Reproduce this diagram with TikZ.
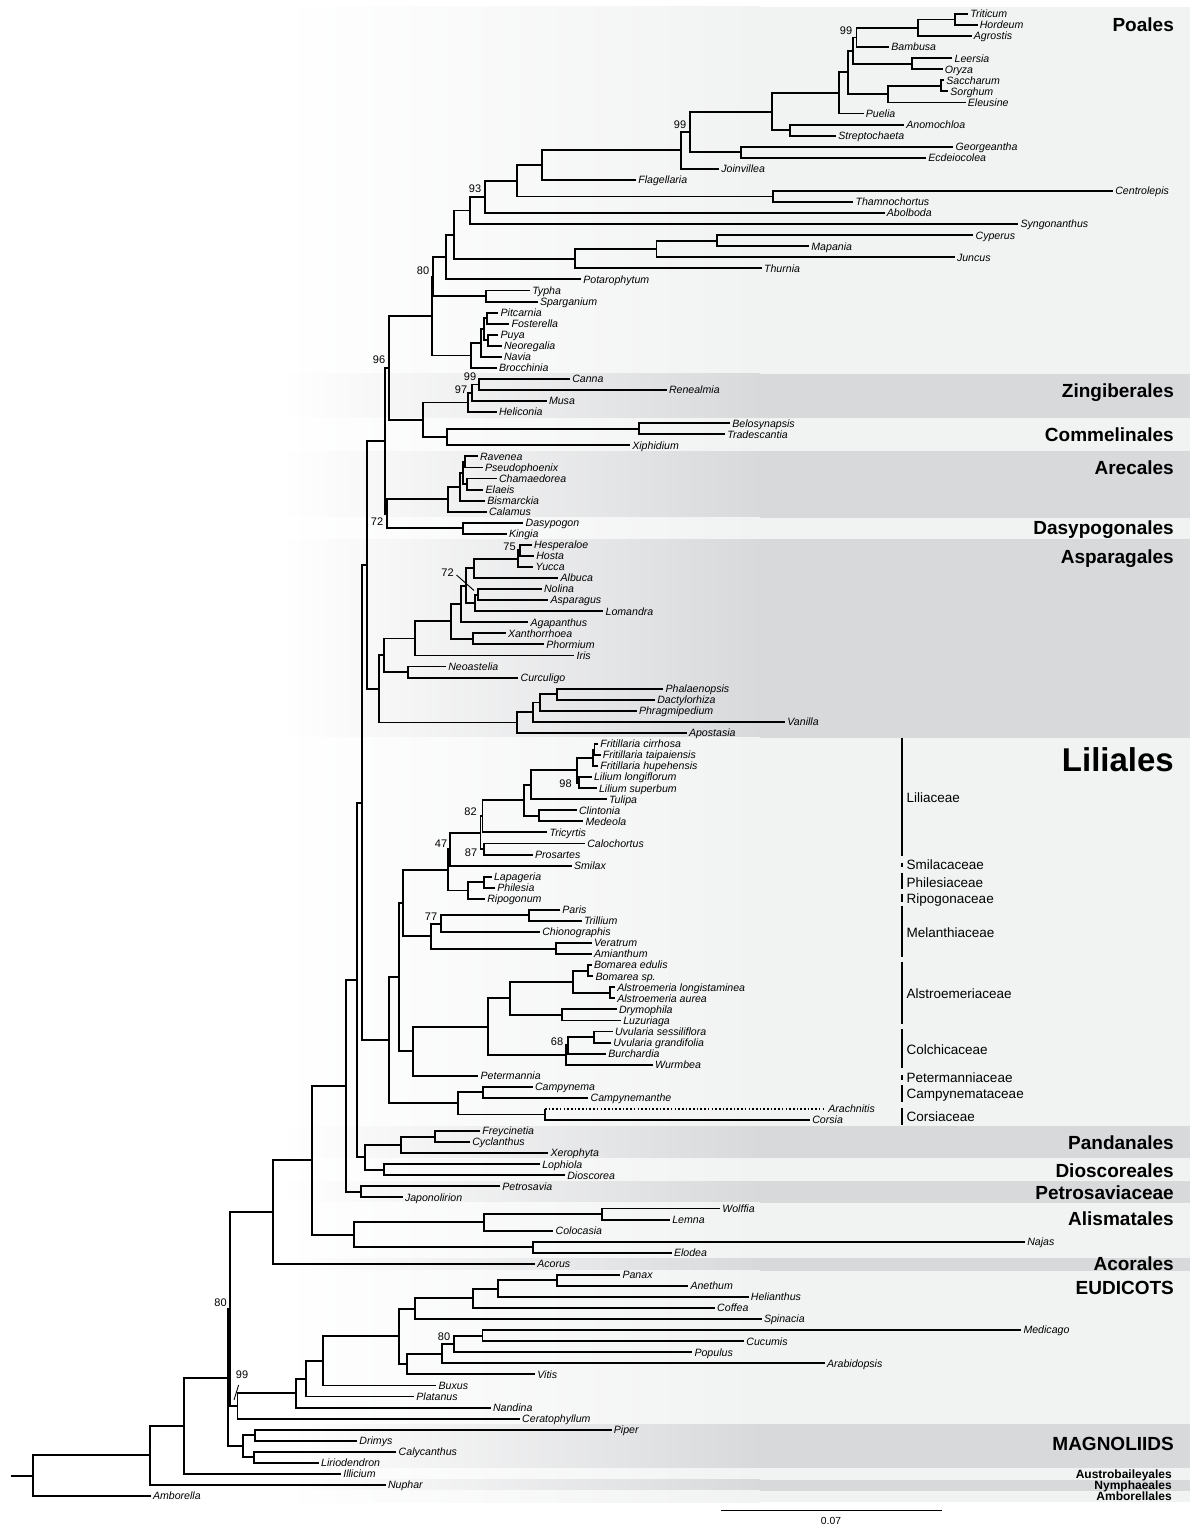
\documentclass[tikz,border=0pt]{standalone}
\usepackage{fontspec}
\setmainfont{Liberation Sans}
\usetikzlibrary{calc}
\definecolor{dkband}{RGB}{216,217,219}
\definecolor{ltband}{RGB}{241,242,242}
\tikzset{
  br/.style={line width=1.9pt},
  lab/.style={anchor=west,inner xsep=2.3pt,inner ysep=0pt,outer sep=0pt,font=\fontsize{10.6}{12}\selectfont\itshape,text height=7.6pt,text depth=0pt},
  boot/.style={inner sep=0pt,font=\fontsize{11}{12}\selectfont,text height=7.9pt,text depth=0pt},
  clab/.style={anchor=east,inner sep=0pt,font=\fontsize{19}{21}\selectfont\bfseries,text height=13.6pt,text depth=0pt},
  slab/.style={anchor=east,inner sep=0pt,font=\fontsize{12}{13}\selectfont\bfseries,text height=8.6pt,text depth=0pt},
  famlab/.style={anchor=west,inner sep=0pt,font=\fontsize{13.5}{15}\selectfont,text height=9.7pt,text depth=0pt},
  fambar/.style={line width=2.4pt},
  lead/.style={line width=0.9pt}
}
\newcommand\mylf[4]{\coordinate (#1) at (#2,{14+11.06*#3}); \node[lab] (#1-l) at (#1) {#4};}
\newcommand\mycl[4]{\coordinate (#1m) at ($(#3)!0.5!(#4)$); \coordinate (#1x) at (#2,0); \coordinate (#1) at (#1x |- #1m); \draw[br] (#3) -| (#1) |- (#4);}
\newcommand\myband[3]{\shade[left color=white,right color=#3] (280,#1) rectangle (760,#2); \fill[#3] (760,#1) rectangle (1190,#2);}
\newcommand\myclab[3]{\node[clab] (#1) at (1174,#2) {#3};}
\newcommand\myfam[5]{\coordinate (#1a) at (901.7,#2); \coordinate (#1b) at (901.7,#3); \draw[fambar] (#1a) -- (#1b); \node[famlab] (#1) at (906.5,#4) {#5};}
\begin{document}
\begin{tikzpicture}[x=1pt,y=-1pt]
\useasboundingbox (0,0) rectangle (1190,1525);
% bands
\myband{7}{373.5}{ltband}
\myband{373.5}{418}{dkband}
\myband{418}{451}{ltband}
\myband{451}{517.5}{dkband}
\myband{517.5}{539}{ltband}
\myband{539}{737.5}{dkband}
\myband{737.5}{1126}{ltband}
\myband{1126}{1158}{dkband}
\myband{1158}{1181}{ltband}
\myband{1181}{1202.5}{dkband}
\myband{1202.5}{1258}{ltband}
\myband{1258}{1270.5}{dkband}
\myband{1270.5}{1424}{ltband}
\myband{1424}{1468}{dkband}
\myband{1468}{1479.5}{ltband}
\myband{1479.5}{1490.5}{dkband}
\myband{1490.5}{1502}{ltband}
% leaves
\mylf{Triticum}{968}{0}{Triticum}
\mylf{Hordeum}{977.5}{1}{Hordeum}
\mylf{Agrostis}{971.6}{2}{Agrostis}
\mylf{Bambusa}{889}{3}{Bambusa}
\mylf{Leersia}{952.3}{4}{Leersia}
\mylf{Oryza}{942.5}{5}{Oryza}
\mylf{Saccharum}{944}{6}{Saccharum}
\mylf{Sorghum}{948}{7}{Sorghum}
\mylf{Eleusine}{965.6}{8}{Eleusine}
\mylf{Puelia}{863.5}{9}{Puelia}
\mylf{Anomochloa}{904}{10}{Anomochloa}
\mylf{Streptochaeta}{836}{11}{Streptochaeta}
\mylf{Georgeantha}{953.3}{12}{Georgeantha}
\mylf{Ecdeiocolea}{926}{13}{Ecdeiocolea}
\mylf{Joinvillea}{719}{14}{Joinvillea}
\mylf{Flagellaria}{636}{15}{Flagellaria}
\mylf{Centrolepis}{1113}{16}{Centrolepis}
\mylf{Thamnochortus}{853.3}{17}{Thamnochortus}
\mylf{Abolboda}{884.6}{18}{Abolboda}
\mylf{Syngonanthus}{1018.2}{19}{Syngonanthus}
\mylf{Cyperus}{973.3}{20}{Cyperus}
\mylf{Mapania}{809.1}{21}{Mapania}
\mylf{Juncus}{954.7}{22}{Juncus}
\mylf{Thurnia}{761.8}{23}{Thurnia}
\mylf{Potarophytum}{581}{24}{Potarophytum}
\mylf{Typha}{530}{25}{Typha}
\mylf{Sparganium}{537.7}{26}{Sparganium}
\mylf{Pitcarnia}{498.3}{27}{Pitcarnia}
\mylf{Fosterella}{509.3}{28}{Fosterella}
\mylf{Puya}{498.3}{29}{Puya}
\mylf{Neoregalia}{501.7}{30}{Neoregalia}
\mylf{Navia}{501.7}{31}{Navia}
\mylf{Brocchinia}{496.7}{32}{Brocchinia}
\mylf{Canna}{570}{33}{Canna}
\mylf{Renealmia}{666.7}{34}{Renealmia}
\mylf{Musa}{546.7}{35}{Musa}
\mylf{Heliconia}{496.7}{36}{Heliconia}
\mylf{Belosynapsis}{730}{37}{Belosynapsis}
\mylf{Tradescantia}{725}{38}{Tradescantia}
\mylf{Xiphidium}{630}{39}{Xiphidium}
\mylf{Ravenea}{477.7}{40}{Ravenea}
\mylf{Pseudophoenix}{482.7}{41}{Pseudophoenix}
\mylf{Chamaedorea}{496.7}{42}{Chamaedorea}
\mylf{Elaeis}{483.3}{43}{Elaeis}
\mylf{Bismarckia}{485}{44}{Bismarckia}
\mylf{Calamus}{486.7}{45}{Calamus}
\mylf{Dasypogon}{523.3}{46}{Dasypogon}
\mylf{Kingia}{506.7}{47}{Kingia}
\mylf{Hesperaloe}{531.7}{48}{Hesperaloe}
\mylf{Hosta}{534}{49}{Hosta}
\mylf{Yucca}{533.3}{50}{Yucca}
\mylf{Albuca}{558.3}{51}{Albuca}
\mylf{Nolina}{541.7}{52}{Nolina}
\mylf{Asparagus}{548.3}{53}{Asparagus}
\mylf{Lomandra}{603.3}{54}{Lomandra}
\mylf{Agapanthus}{528.3}{55}{Agapanthus}
\mylf{Xanthorrhoea}{505.7}{56}{Xanthorrhoea}
\mylf{Phormium}{544}{57}{Phormium}
\mylf{Iris}{574.3}{58}{Iris}
\mylf{Neoastelia}{446}{59}{Neoastelia}
\mylf{Curculigo}{518.3}{60}{Curculigo}
\mylf{Phalaenopsis}{663.3}{61}{Phalaenopsis}
\mylf{Dactylorhiza}{655}{62}{Dactylorhiza}
\mylf{Phragmipedium}{636.7}{63}{Phragmipedium}
\mylf{Vanilla}{785}{64}{Vanilla}
\mylf{Apostasia}{686.7}{65}{Apostasia}
\mylf{Fcir}{598}{66}{Fritillaria cirrhosa}
\mylf{Ftai}{600.5}{67}{Fritillaria taipaiensis}
\mylf{Fhup}{598}{68}{Fritillaria hupehensis}
\mylf{Llon}{591.7}{69}{Lilium longiflorum}
\mylf{Lsup}{596.7}{70}{Lilium superbum}
\mylf{Tulipa}{606.7}{71}{Tulipa}
\mylf{Clintonia}{576.7}{72}{Clintonia}
\mylf{Medeola}{583.3}{73}{Medeola}
\mylf{Tricyrtis}{547.3}{74}{Tricyrtis}
\mylf{Calochortus}{585}{75}{Calochortus}
\mylf{Prosartes}{532.7}{76}{Prosartes}
\mylf{Smilax}{571.7}{77}{Smilax}
\mylf{Lapageria}{491.7}{78}{Lapageria}
\mylf{Philesia}{495}{79}{Philesia}
\mylf{Ripogonum}{485}{80}{Ripogonum}
\mylf{Paris}{560}{81}{Paris}
\mylf{Trillium}{581.7}{82}{Trillium}
\mylf{Chionographis}{540}{83}{Chionographis}
\mylf{Veratrum}{591.7}{84}{Veratrum}
\mylf{Amianthum}{591.7}{85}{Amianthum}
\mylf{Bedu}{591.7}{86}{Bomarea edulis}
\mylf{Bsp}{593.3}{87}{Bomarea sp.}
\mylf{Alon}{615}{88}{Alstroemeria longistaminea}
\mylf{Aaur}{615}{89}{Alstroemeria aurea}
\mylf{Drymophila}{616.7}{90}{Drymophila}
\mylf{Luzuriaga}{621}{91}{Luzuriaga}
\mylf{Uses}{612.7}{92}{Uvularia sessiliflora}
\mylf{Ugra}{611}{93}{Uvularia grandifolia}
\mylf{Burchardia}{606}{94}{Burchardia}
\mylf{Wurmbea}{652.7}{95}{Wurmbea}
\mylf{Petermannia}{478.3}{96}{Petermannia}
\mylf{Campynema}{532.7}{97}{Campynema}
\mylf{Campynemanthe}{588.3}{98}{Campynemanthe}
\mylf{Arachnitis}{826}{99}{Arachnitis}
\mylf{Corsia}{810}{100}{Corsia}
\mylf{Freycinetia}{480}{101}{Freycinetia}
\mylf{Cyclanthus}{470}{102}{Cyclanthus}
\mylf{Xerophyta}{548.3}{103}{Xerophyta}
\mylf{Lophiola}{540}{104}{Lophiola}
\mylf{Dioscorea}{565}{105}{Dioscorea}
\mylf{Petrosavia}{500}{106}{Petrosavia}
\mylf{Japonolirion}{402.7}{107}{Japonolirion}
\mylf{Wolffia}{720}{108}{Wolffia}
\mylf{Lemna}{670}{109}{Lemna}
\mylf{Colocasia}{553.3}{110}{Colocasia}
\mylf{Najas}{1025}{111}{Najas}
\mylf{Elodea}{671.7}{112}{Elodea}
\mylf{Acorus}{535}{113}{Acorus}
\mylf{Panax}{620.2}{114}{Panax}
\mylf{Anethum}{688.2}{115}{Anethum}
\mylf{Helianthus}{748.6}{116}{Helianthus}
\mylf{Coffea}{714.9}{117}{Coffea}
\mylf{Spinacia}{761.7}{118}{Spinacia}
\mylf{Medicago}{1021.2}{119}{Medicago}
\mylf{Cucumis}{744.1}{120}{Cucumis}
\mylf{Populus}{692.2}{121}{Populus}
\mylf{Arabidopsis}{824.7}{122}{Arabidopsis}
\mylf{Vitis}{535}{123}{Vitis}
\mylf{Buxus}{436.3}{124}{Buxus}
\mylf{Platanus}{414.1}{125}{Platanus}
\mylf{Nandina}{490.7}{126}{Nandina}
\mylf{Ceratophyllum}{519.9}{127}{Ceratophyllum}
\mylf{Piper}{611.6}{128}{Piper}
\mylf{Drimys}{357.1}{129}{Drimys}
\mylf{Calycanthus}{396.4}{130}{Calycanthus}
\mylf{Liriodendron}{318.9}{131}{Liriodendron}
\mylf{Illicium}{341}{132}{Illicium}
\mylf{Nuphar}{385.7}{133}{Nuphar}
\mylf{Amborella}{150.7}{134}{Amborella}
% Poales
\mycl{TH}{954.7}{Triticum}{Hordeum}
\mycl{THA}{918.2}{TH}{Agrostis}
\mycl{THAB}{856.5}{THA}{Bambusa}
\mycl{LO}{911.9}{Leersia}{Oryza}
\mycl{BEP}{852.6}{THAB}{LO}
\mycl{SS}{941}{Saccharum}{Sorghum}
\mycl{SSE}{887.7}{SS}{Eleusine}
\mycl{BP}{847.7}{BEP}{SSE}
\mycl{BPP}{838.6}{BP}{Puelia}
\mycl{AS}{789.8}{Anomochloa}{Streptochaeta}
\mycl{Poa}{771.9}{BPP}{AS}
\mycl{GE}{740.7}{Georgeantha}{Ecdeiocolea}
\mycl{PGE}{690.2}{Poa}{GE}
\mycl{PGEJ}{681.4}{PGE}{Joinvillea}
\mycl{PGEJF}{542.3}{PGEJ}{Flagellaria}
\mycl{CT}{773}{Centrolepis}{Thamnochortus}
\mycl{Res}{516.7}{PGEJF}{CT}
\mycl{Nnt}{485}{Res}{Abolboda}
\mycl{NntS}{470}{Nnt}{Syngonanthus}
\mycl{CM}{716.8}{Cyperus}{Mapania}
\mycl{CMJ}{656.5}{CM}{Juncus}
\mycl{CMJT}{575}{CMJ}{Thurnia}
\mycl{Gr}{454.3}{NntS}{CMJT}
\mycl{GrP}{446}{Gr}{Potarophytum}
\mycl{TS}{485.7}{Typha}{Sparganium}
\mycl{Net}{433.3}{GrP}{TS}
\mycl{PF}{487}{Pitcarnia}{Fosterella}
\mycl{PN}{488}{Puya}{Neoregalia}
\mycl{PFPN}{484}{PF}{PN}
\mycl{Brn}{480.7}{PFPN}{Navia}
\mycl{Bro}{470.7}{Brn}{Brocchinia}
\mycl{Poales}{431.7}{Net}{Bro}
% Zingiberales, Commelinales
\mycl{CR}{479.3}{Canna}{Renealmia}
\mycl{CRM}{471.7}{CR}{Musa}
\mycl{Zin}{467.7}{CRM}{Heliconia}
\mycl{BT}{639}{Belosynapsis}{Tradescantia}
\mycl{Com}{446.7}{BT}{Xiphidium}
\mycl{ZC}{422.7}{Zin}{Com}
\mycl{Nns}{389.3}{Poales}{ZC}
% Arecales, Dasypogonales
\mycl{RP}{465}{Ravenea}{Pseudophoenix}
\mycl{CE}{466.7}{Chamaedorea}{Elaeis}
\mycl{RPCE}{463.3}{RP}{CE}
\mycl{Are1}{460}{RPCE}{Bismarckia}
\mycl{Are}{448.3}{Are1}{Calamus}
\mycl{DK}{463.3}{Dasypogon}{Kingia}
\mycl{AD}{386.7}{Are}{DK}
\mycl{Cmd}{385}{Nns}{AD}
% Asparagales
\mycl{HH}{520}{Hesperaloe}{Hosta}
\mycl{HHY}{518.3}{HH}{Yucca}
\mycl{HHYA}{474}{HHY}{Albuca}
\mycl{NA}{478.3}{Nolina}{Asparagus}
\mycl{NAL}{475}{NA}{Lomandra}
\mycl{Asp1}{466}{HHYA}{NAL}
\mycl{Asp2}{460.7}{Asp1}{Agapanthus}
\mycl{XP}{473.3}{Xanthorrhoea}{Phormium}
\mycl{Asp3}{450.7}{Asp2}{XP}
\mycl{Asp4}{415}{Asp3}{Iris}
\mycl{NC}{407.7}{Neoastelia}{Curculigo}
\mycl{Asp5}{384.3}{Asp4}{NC}
\mycl{PhD}{557.3}{Phalaenopsis}{Dactylorhiza}
\mycl{PhDP}{540}{PhD}{Phragmipedium}
\mycl{PhDPV}{533.3}{PhDP}{Vanilla}
\mycl{Orc}{516.7}{PhDPV}{Apostasia}
\mycl{Aspa}{379.3}{Asp5}{Orc}
\mycl{CA}{366.7}{Cmd}{Aspa}
% Liliales
\mycl{Fct}{594.5}{Fcir}{Ftai}
\mycl{Fri}{592.7}{Fct}{Fhup}
\mycl{LL}{579.3}{Llon}{Lsup}
\mycl{FL}{576.7}{Fri}{LL}
\mycl{FLT}{531}{FL}{Tulipa}
\mycl{CMe}{539.3}{Clintonia}{Medeola}
\mycl{Lil}{524}{FLT}{CMe}
\mycl{LilT}{482.5}{Lil}{Tricyrtis}
\mycl{CP}{484}{Calochortus}{Prosartes}
\mycl{Nei}{480.5}{LilT}{CP}
\mycl{Nfs}{450}{Nei}{Smilax}
\mycl{LPh}{484}{Lapageria}{Philesia}
\mycl{LPR}{468.3}{LPh}{Ripogonum}
\mycl{SPR}{448.3}{Nfs}{LPR}
\mycl{PT}{529}{Paris}{Trillium}
\mycl{Nss}{440.7}{PT}{Chionographis}
\mycl{VA}{556}{Veratrum}{Amianthum}
\mycl{Mel}{430.7}{Nss}{VA}
\mycl{LSM}{402.7}{SPR}{Mel}
\mycl{BB}{587.7}{Bedu}{Bsp}
\mycl{AAu}{610}{Alon}{Aaur}
\mycl{BBAA}{573.3}{BB}{AAu}
\mycl{DL}{561.7}{Drymophila}{Luzuriaga}
\mycl{Als}{510}{BBAA}{DL}
\mycl{UU}{594}{Uses}{Ugra}
\mycl{UUB}{567.7}{UU}{Burchardia}
\mycl{Col}{566}{UUB}{Wurmbea}
\mycl{AlCo}{488.3}{Als}{Col}
\mycl{ACP}{412.7}{AlCo}{Petermannia}
\mycl{LiCore}{399.3}{LSM}{ACP}
\mycl{CC}{482.7}{Campynema}{Campynemanthe}
\coordinate (ACm) at ($(Arachnitis)!0.5!(Corsia)$);
\coordinate (ACx) at (545,0);
\coordinate (AC) at (ACx |- ACm);
\coordinate (ACt) at (ACx |- Arachnitis);
\draw[br] (ACt) |- (Corsia);
\draw[br,dash pattern=on 1.6pt off 2.1pt] (ACt) -- (Arachnitis);
\mycl{CCAC}{458.3}{CC}{AC}
\mycl{Lili}{389.3}{LiCore}{CCAC}
\mycl{Ntso}{361.7}{CA}{Lili}
% Pandanales ... Acorales
\mycl{FC}{435}{Freycinetia}{Cyclanthus}
\mycl{Pan}{400.7}{FC}{Xerophyta}
\mycl{LD}{384}{Lophiola}{Dioscorea}
\mycl{PaDi}{365}{Pan}{LD}
\mycl{Ntsf}{356.7}{Ntso}{PaDi}
\mycl{PJ}{360.7}{Petrosavia}{Japonolirion}
\mycl{Ntfs}{346}{Ntsf}{PJ}
\mycl{WL}{602.3}{Wolffia}{Lemna}
\mycl{WLC}{484.3}{WL}{Colocasia}
\mycl{NE}{532.7}{Najas}{Elodea}
\mycl{Ali}{354.3}{WLC}{NE}
\mycl{Nto}{311.7}{Ntfs}{Ali}
\mycl{Mono}{273.3}{Nto}{Acorus}
% Eudicots
\mycl{PA}{557.2}{Panax}{Anethum}
\mycl{PAH}{498.2}{PA}{Helianthus}
\mycl{PAHC}{473}{PAH}{Coffea}
\mycl{Ast}{415.1}{PAHC}{Spinacia}
\mycl{MC}{482.5}{Medicago}{Cucumis}
\mycl{Nee}{453.8}{MC}{Populus}
\mycl{Ros1}{442}{Nee}{Arabidopsis}
\mycl{Ros}{407.1}{Ros1}{Vitis}
\mycl{Core}{398.9}{Ast}{Ros}
\mycl{CoB}{323.2}{Core}{Buxus}
\mycl{CoP}{306.4}{CoB}{Platanus}
\mycl{Eud}{295.7}{CoP}{Nandina}
\mycl{Nnn}{237.5}{Eud}{Ceratophyllum}
\mycl{NAe}{230}{Mono}{Nnn}
% Magnoliids and base
\mycl{PDr}{255.4}{Piper}{Drimys}
\mycl{CLi}{253.6}{Calycanthus}{Liriodendron}
\mycl{Mag}{242.9}{PDr}{CLi}
\mycl{NB}{228}{NAe}{Mag}
\mycl{Nof}{183.9}{NB}{Illicium}
\mycl{Nofy}{150}{Nof}{Nuphar}
\mycl{Root}{33.2}{Nofy}{Amborella}
\coordinate (rs) at ($(Root)+(-22.5,0)$);
\draw[br] (rs) -- (Root);
% support values
\node[boot] (b1) at (846,31) {99};
\node[boot] (b2) at (680,125) {99};
\node[boot] (b3) at (475,189) {93};
\node[boot] (b4) at (423,271) {80};
\node[boot] (b5) at (379,360) {96};
\node[boot] (b6) at (470,377) {99};
\node[boot] (b7) at (461,390) {97};
\node[boot] (b8) at (377,522) {72};
\node[boot] (b9) at (509.5,547) {75};
\node[boot] (b10) at (447.5,573) {72};
\node[boot] (b11) at (565.5,784) {98};
\node[boot] (b12) at (470.5,812) {82};
\node[boot] (b13) at (471,853) {87};
\node[boot] (b14) at (441,844) {47};
\node[boot] (b15) at (431,917) {77};
\node[boot] (b16) at (557,1042) {68};
\node[boot] (b17) at (220.5,1303) {80};
\node[boot] (b18) at (242,1375) {99};
\node[boot] (b19) at (444,1337) {80};
\coordinate (l1a) at (456.5,575); \coordinate (l1b) at (474,590.5);
\draw[lead] (l1a) -- (l1b);
\coordinate (l2a) at (234,1400); \coordinate (l2b) at (238.6,1385);
\draw[lead] (l2a) -- (l2b);
% clade labels
\myclab{cPoales}{25}{Poales}
\myclab{cZing}{391}{Zingiberales}
\myclab{cComm}{435}{Commelinales}
\myclab{cAre}{468}{Arecales}
\myclab{cDasy}{528}{Dasypogonales}
\myclab{cAsp}{557}{Asparagales}
\node[anchor=east,inner sep=0pt,font=\fontsize{33}{36}\selectfont\bfseries,text height=23.6pt,text depth=0pt] (cLili) at (1174,759.5) {Liliales};
\myclab{cPand}{1142.7}{Pandanales}
\myclab{cDios}{1170.7}{Dioscoreales}
\myclab{cPetr}{1192.3}{Petrosaviaceae}
\myclab{cAlis}{1219}{Alismatales}
\myclab{cAcor}{1263.5}{Acorales}
\myclab{cEud}{1287.3}{EUDICOTS}
\myclab{cMag}{1443.3}{MAGNOLIIDS}
\node[slab] (cAus) at (1172,1474) {Austrobaileyales};
\node[slab] (cNym) at (1172,1485.3) {Nymphaeales};
\node[slab] (cAmb) at (1172,1496.3) {Amborellales};
% families
\myfam{fLil}{738.3}{856}{797.7}{Liliaceae}
\myfam{fSmi}{862.7}{867.3}{865}{Smilacaceae}
\myfam{fPhi}{872.7}{889.3}{882.3}{Philesiaceae}
\myfam{fRip}{894}{901.7}{898.3}{Ripogonaceae}
\myfam{fMel}{906}{956.7}{932.3}{Melanthiaceae}
\myfam{fAls}{961.7}{1024.3}{993.3}{Alstroemeriaceae}
\myfam{fCol}{1029}{1068.3}{1049.3}{Colchicaceae}
\myfam{fPet}{1075}{1080}{1077.3}{Petermanniaceae}
\myfam{fCam}{1085}{1102.3}{1094}{Campynemataceae}
\myfam{fCor}{1107.7}{1125}{1116.7}{Corsiaceae}
% scale bar
\coordinate (sba) at (721,1510.5); \coordinate (sbb) at (941.5,1510.5);
\draw[br] (sba) -- (sbb);
\node[inner sep=0pt,font=\fontsize{10.3}{12}\selectfont,text height=7.4pt,text depth=0pt] (sbl) at (831,1520.5) {0.07};
\end{tikzpicture}
\end{document}
